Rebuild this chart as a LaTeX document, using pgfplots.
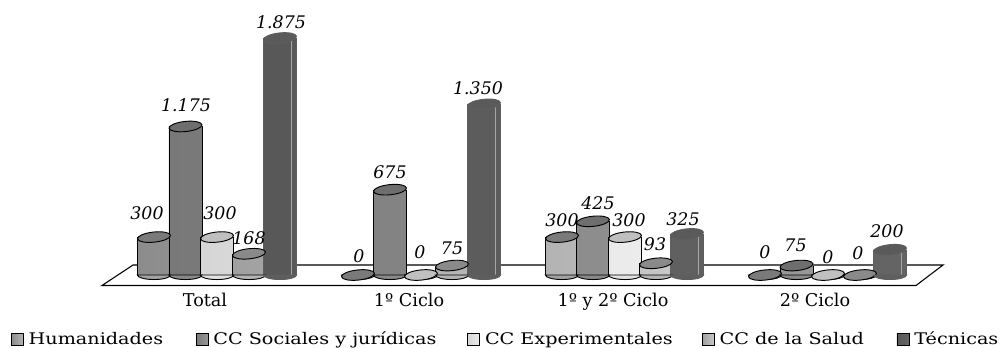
\documentclass[border=0pt]{standalone}
\usepackage{fontspec}
\setmainfont{DejaVu Serif}
\newfontfamily\legfont[FakeStretch=1.2]{DejaVu Serif}
\usepackage{pgfplots}
\usepackage{pgfplotstable}
\pgfplotsset{compat=1.18}
\definecolor{humL}{HTML}{8C8C8C}\definecolor{humR}{HTML}{B6B6B6}\definecolor{humT}{HTML}{7A7A7A}
\definecolor{socL}{HTML}{787878}\definecolor{socR}{HTML}{989898}\definecolor{socT}{HTML}{6E6E6E}
\definecolor{expL}{HTML}{D6D6D6}\definecolor{expR}{HTML}{ECECEC}\definecolor{expT}{HTML}{C0C0C0}
\definecolor{salL}{HTML}{A0A0A0}\definecolor{salR}{HTML}{C8C8C8}\definecolor{salT}{HTML}{8A8A8A}
\definecolor{tecL}{HTML}{585858}\definecolor{tecR}{HTML}{646464}\definecolor{tecT}{HTML}{5A5A5A}
\definecolor{tecO}{HTML}{5E5E5E}
\pgfdeclareplotmark{cyltop}{%
  \pgfpathellipse{\pgfpointorigin}{\pgfqpoint{12.4pt}{0pt}}{\pgfqpoint{0pt}{3.8pt}}%
  \pgfusepathqfillstroke}
\pgfdeclareplotmark{cylbot}{%
  \pgfpathmoveto{\pgfqpoint{-12.4pt}{0pt}}%
  \pgfpatharc{180}{360}{12.4pt and 3.4pt}%
  \pgfpathclose\pgfusepathqfillstroke}
\pgfplotstableread{
x y
154 300
358 0
562 300
765 0
}\hum
\pgfplotstableread{
x y
185.5 1175
390 675
593 425
796.5 75
}\soc
\pgfplotstableread{
x y
217 300
421 0
625 300
828 0
}\expe
\pgfplotstableread{
x y
249 168
452 75
656 93
860 0
}\sal
\pgfplotstableread{
x y
280 1875
484 1350
687 325
890 200
}\tec
\newcommand{\lbl}[3]{\makebox[0pt][c]{\hspace*{#1\dimexpr1.5pt\relax}\smash{\raisebox{\dimexpr#2\dimexpr.75pt\relax-4.4pt\relax}{#3}}}}
\newcommand{\cyl}[3]{%
  \addplot[forget plot,only marks,mark=cylbot,mark options={fill=#2L!50!#2R,draw=#3,line width=.7pt}] table[x=x,y expr=0] {#1};
  \addplot[forget plot,ybar,bar width=24.8pt,bar shift=0pt,draw=none,left color=#2L,right color=#2R,restrict y to domain=1:5000] table[x=x,y=y] {#1};
  \addplot[forget plot,ycomb,#3,line width=.7pt,mark=none,xshift=-12.4pt] table[x=x,y=y] {#1};
  \addplot[forget plot,ycomb,#3,line width=.7pt,mark=none,xshift=12.4pt] table[x=x,y=y] {#1};
  \addplot[forget plot,only marks,mark=cyltop,mark options={fill=#2T,draw=#3,line width=.7pt,rotate=6}] table[x=x,y=y] {#1};
}
\pgfplotsset{labs/.style={forget plot,only marks,mark=none,
    point meta=explicit symbolic,
    nodes near coords,
    every node near coord/.append style={anchor=center,inner sep=0pt,font=\fontsize{13}{15}\selectfont\itshape,text=black}}}
\newcommand{\legimg}[1]{\addlegendimage{legend image code/.code={\draw[draw=black,line width=.5pt,left color=#1L,right color=#1R] (0pt,-4.5pt) rectangle (9pt,4.5pt);}}}
\begin{document}
\begin{tikzpicture}
\useasboundingbox (0,0) rectangle (750pt,260.25pt);
\begin{axis}[
  at={(0pt,46.125pt)},anchor=south west,
  scale only axis,width=750pt,height=214.125pt,
  xmin=0,xmax=1000,ymin=-83,ymax=2175.6,
  clip=false,
  axis line style={draw=none},
  tick style={draw=none},
  ytick=\empty,
  xtick={205,409,613,815},
  xticklabels={Total,1º Ciclo,1º y 2º Ciclo,2º Ciclo},
  x tick label style={font=\fontsize{13.2}{15}\selectfont,yshift=-2pt},
  legend columns=5,
  legend cell align=left,
  legend style={at={(0.011,-0.188)},anchor=west,draw=none,fill=none,inner sep=0pt,outer sep=0pt,
    nodes={inner sep=0pt,font=\legfont\fontsize{12}{14}\selectfont},/tikz/column sep=3.75pt},
]
\legimg{hum}\addlegendentry{\makebox[121.5pt][l]{Humanidades}}
\legimg{soc}\addlegendentry{\makebox[186.75pt][l]{CC Sociales y jurídicas}}
\legimg{exp}\addlegendentry{\makebox[159pt][l]{CC Experimentales}}
\legimg{sal}\addlegendentry{\makebox[129pt][l]{CC de la Salud}}
\legimg{tec}\addlegendentry{\makebox[53pt][l]{Técnicas}}
\addplot[forget plot,draw=black,line width=.8pt,fill=white] coordinates {(102,-83) (133,79) (943,79) (916,-83)} -- cycle;
\cyl{\hum}{hum}{black}
\cyl{\soc}{soc}{black}
\cyl{\expe}{exp}{black}
\cyl{\sal}{sal}{black}
\cyl{\tec}{tec}{tecO}
\addplot[forget plot,ycomb,color=gray!70,line width=.4pt,mark=none,xshift=8.5pt] table[x=x,y=y] {\tec};
\addplot[labs] coordinates {(154,300) [\lbl{-7}{23}{300}] (358,0) [\lbl{1}{18}{0}] (562,300) [\lbl{0}{16}{300}] (765,0) [\lbl{0}{22}{0}]};
\addplot[labs] coordinates {(185.5,1175) [\lbl{0.5}{20.5}{1.175}] (390,675) [\lbl{0}{17}{675}] (593,425) [\lbl{5}{18}{425}] (796.5,75) [\lbl{-1}{20}{75}]};
\addplot[labs] coordinates {(217,300) [\lbl{3}{23}{300}] (421,0) [\lbl{-1}{22}{0}] (625,300) [\lbl{4}{16}{300}] (828,0) [\lbl{0}{17}{0}]};
\addplot[labs] coordinates {(249,168) [\lbl{0}{15}{168}] (452,75) [\lbl{0}{16.5}{75}] (656,93) [\lbl{-1}{19}{93}] (860,0) [\lbl{-2}{21}{0}]};
\addplot[labs] coordinates {(280,1875) [\lbl{1}{15}{1.875}] (484,1350) [\lbl{-6}{16}{1.350}] (687,325) [\lbl{-4}{14}{325}] (890,200) [\lbl{-3}{18}{200}]};
\end{axis}
\end{tikzpicture}
\end{document}
